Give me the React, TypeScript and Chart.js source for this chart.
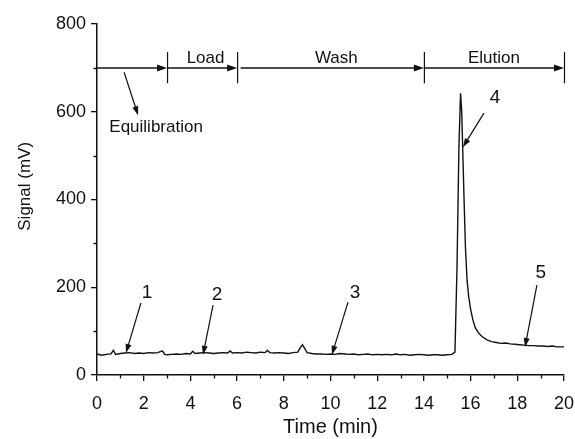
import React, { useEffect, useRef } from 'react';
import { Chart, registerables } from 'chart.js';

Chart.register(...registerables);

// Chromatogram: time (min) and signal (mV)
const times = [
  0, 0.2, 0.4, 0.6, 0.7, 0.8, 1.0, 1.2, 1.4, 1.6, 1.8, 2.0, 2.2, 2.4, 2.6, 2.8, 2.9, 3.0, 3.2, 3.4,
  3.6, 3.8, 4.0, 4.1, 4.2, 4.4, 4.6, 4.8, 5.0, 5.2, 5.4, 5.6, 5.7, 5.8, 6.0, 6.2, 6.4, 6.6, 6.8, 7.0,
  7.2, 7.3, 7.4, 7.6, 7.8, 8.0, 8.2, 8.4, 8.6, 8.7, 8.8, 8.9, 9.0, 9.2, 9.4, 9.6, 9.8, 10.0, 10.2, 10.4,
  10.6, 10.8, 11.0, 11.2, 11.4, 11.6, 11.8, 12.0, 12.2, 12.4, 12.6, 12.8, 13.0, 13.2, 13.4, 13.6, 13.8, 14.0, 14.2, 14.4,
  14.6, 14.8, 15.0, 15.2, 15.33, 15.42, 15.5, 15.57, 15.62, 15.66, 15.72, 15.78, 15.85, 15.92, 16.0, 16.1, 16.2, 16.35, 16.5, 16.7,
  16.9, 17.1, 17.3, 17.5, 17.7, 17.9, 18.1, 18.3, 18.5, 18.7, 18.9, 19.1, 19.3, 19.5, 19.7, 19.9, 20.0,
];
const signal = [
  48, 45, 47, 48, 56, 47, 49, 50, 51, 49, 50, 49, 51, 50, 51, 55, 47, 46, 47, 48,
  47, 49, 48, 54, 49, 50, 51, 50, 49, 50, 51, 50, 55, 50, 51, 50, 52, 51, 50, 52,
  51, 56, 51, 50, 51, 50, 49, 51, 52, 62, 69, 60, 51, 49, 48, 48, 47, 48, 47, 49,
  48, 47, 48, 46, 47, 48, 46, 47, 46, 47, 46, 48, 46, 47, 45, 46, 47, 46, 45, 46,
  46, 45, 46, 47, 52, 250, 520, 642, 600, 519, 400, 290, 215, 178, 150, 125, 108, 95, 87, 80,
  76, 74, 72, 73, 71, 70, 69, 68, 67, 67, 66, 66, 65, 66, 64, 64, 64,
];

const xMinorTicks = [1, 3, 5, 7, 9, 11, 13, 15, 17, 19];
const yMinorTicks = [100, 300, 500, 700];

// Process phases (top arrows)
const phaseLevel = 700;
const phaseBarLow = 665;
const phaseBarHigh = 736;
const phaseStarts = [0, 3, 6.15, 14];
const phaseEnds = [3, 6, 14, 20];
const phaseNames = ['Load', 'Wash', 'Elution'];
const phaseNameX = [4.65, 10.25, 17.0];
const phaseNameY = 722;

// Numbered callouts with arrows
const calloutText = ['1', '2', '3', '4', '5', 'Equilibration'];
const calloutTextX = [2.14, 5.14, 11.05, 17.05, 19.01, 2.53];
const calloutTextY = [187, 182, 187, 631, 232, 565];
const calloutFromX = [1.88, 4.97, 10.75, 16.57, 18.84, 1.16];
const calloutFromY = [164, 159, 166, 597, 205, 690];
const calloutToX = [1.24, 4.54, 10.06, 15.67, 18.33, 1.76];
const calloutToY = [50, 46, 46, 519, 64, 592];

const yTitle = 'Signal (mV)';
const yTitleValue = 430; // data-level centre of the rotated title

const FONT = '"Liberation Sans", Arial, Helvetica, sans-serif';
const INK = '#111';

function arrowHead(ctx: CanvasRenderingContext2D, x1: number, y1: number, x2: number, y2: number, len = 9, half = 3.2) {
  const a = Math.atan2(y2 - y1, x2 - x1);
  ctx.beginPath();
  ctx.moveTo(x2, y2);
  ctx.lineTo(x2 - len * Math.cos(a) + half * Math.sin(a), y2 - len * Math.sin(a) - half * Math.cos(a));
  ctx.lineTo(x2 - len * Math.cos(a) - half * Math.sin(a), y2 - len * Math.sin(a) + half * Math.cos(a));
  ctx.closePath();
  ctx.fill();
}

const annotationPlugin = {
  id: 'annotations',
  afterDraw(chart: any) {
    const ctx: CanvasRenderingContext2D = chart.ctx;
    const xs = chart.scales.x;
    const ys = chart.scales.y;
    const X = (v: number) => xs.getPixelForValue(v);
    const Y = (v: number) => ys.getPixelForValue(v);
    ctx.save();
    ctx.strokeStyle = INK;
    ctx.fillStyle = INK;

    // minor ticks
    ctx.lineWidth = 1.3;
    ctx.beginPath();
    xMinorTicks.forEach((t) => {
      const px = Math.round(X(t)) + 0.5;
      ctx.moveTo(px, ys.bottom);
      ctx.lineTo(px, ys.bottom + 3.5);
    });
    yMinorTicks.forEach((t) => {
      const py = Math.round(Y(t)) + 0.5;
      ctx.moveTo(xs.left - 3.5, py);
      ctx.lineTo(xs.left, py);
    });
    ctx.stroke();

    // y axis title
    ctx.save();
    ctx.translate(25, Y(yTitleValue));
    ctx.rotate(-Math.PI / 2);
    ctx.font = `17px ${FONT}`;
    ctx.textAlign = 'center';
    ctx.textBaseline = 'middle';
    ctx.fillText(yTitle, 0, 0);
    ctx.restore();

    // phase arrows
    ctx.lineWidth = 1.5;
    const py = Y(phaseLevel);
    phaseStarts.forEach((s, i) => {
      const e = phaseEnds[i];
      ctx.beginPath();
      ctx.moveTo(X(s), py);
      ctx.lineTo(X(e) - 4, py);
      ctx.stroke();
      arrowHead(ctx, X(s), py, X(e), py, 10, 3.5);
      ctx.lineWidth = 1.2;
      ctx.beginPath();
      ctx.moveTo(X(e) + 0.5, Y(phaseBarLow));
      ctx.lineTo(X(e) + 0.5, Y(phaseBarHigh));
      ctx.stroke();
      ctx.lineWidth = 1.5;
    });

    ctx.font = `17px ${FONT}`;
    ctx.textAlign = 'center';
    ctx.textBaseline = 'middle';
    phaseNames.forEach((n, i) => {
      ctx.fillText(n, X(phaseNameX[i]), Y(phaseNameY));
    });

    // callouts
    calloutText.forEach((t, i) => {
      ctx.font = `${t.length > 1 ? 17 : 19}px ${FONT}`;
      ctx.fillText(t, X(calloutTextX[i]), Y(calloutTextY[i]));
      const x1 = X(calloutFromX[i]);
      const y1 = Y(calloutFromY[i]);
      const x2 = X(calloutToX[i]);
      const y2 = Y(calloutToY[i]);
      ctx.lineWidth = 1.2;
      const a = Math.atan2(y2 - y1, x2 - x1);
      ctx.beginPath();
      ctx.moveTo(x1, y1);
      ctx.lineTo(x2 - 6 * Math.cos(a), y2 - 6 * Math.sin(a));
      ctx.stroke();
      arrowHead(ctx, x1, y1, x2, y2, 9, 3);
    });
    ctx.restore();
  },
};

export default function App() {
  const ref = useRef<HTMLCanvasElement | null>(null);
  useEffect(() => {
    if (!ref.current) return;
    const chart = new Chart(ref.current, {
      type: 'line',
      data: {
        datasets: [
          {
            data: times.map((t, i) => ({ x: t, y: signal[i] })),
            borderColor: '#111',
            borderWidth: 1.4,
            pointRadius: 0,
            tension: 0,
            fill: false,
          },
        ],
      },
      options: {
        animation: false,
        responsive: false,
        events: [],
        layout: { padding: { top: 24, right: 11, left: 0, bottom: 0 } },
        plugins: { legend: { display: false }, tooltip: { enabled: false } },
        scales: {
          x: {
            type: 'linear',
            min: 0,
            max: 20,
            afterFit: (s: any) => {
              s.height = 64;
              s.paddingLeft = 0;
              s.paddingRight = 0;
            },
            ticks: { stepSize: 2, color: INK, font: { size: 18, family: FONT }, padding: 12, maxRotation: 0 },
            grid: { drawOnChartArea: false, drawTicks: true, tickLength: 6, color: INK, lineWidth: 1.3 },
            border: { display: true, color: INK, width: 1.5 },
            title: { display: true, text: 'Time (min)', color: INK, font: { size: 20, family: FONT }, padding: { top: 0, bottom: 0 } },
          },
          y: {
            type: 'linear',
            min: 0,
            max: 800,
            afterFit: (s: any) => {
              s.width = 97;
              s.paddingTop = 0;
              s.paddingBottom = 0;
            },
            ticks: { stepSize: 200, color: INK, font: { size: 18, family: FONT }, padding: 5 },
            grid: { drawOnChartArea: false, drawTicks: true, tickLength: 6, color: INK, lineWidth: 1.3 },
            border: { display: true, color: INK, width: 1.5 },
            title: { display: false },
          },
        },
      },
      plugins: [annotationPlugin],
    });
    return () => chart.destroy();
  }, []);
  return (
    <div style={{ position: 'absolute', left: 0, top: 0, width: 575, height: 439, background: '#fff' }}>
      <canvas ref={ref} width={575} height={439} style={{ display: 'block' }} />
    </div>
  );
}
